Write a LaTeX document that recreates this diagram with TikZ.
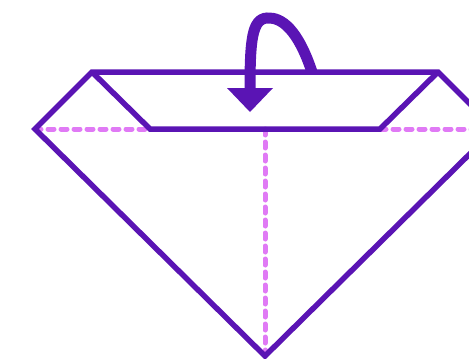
\documentclass[tikz,border=0pt]{standalone}
\begin{document}
\begin{tikzpicture}[x=1pt,y=-1pt,
  fold/.style={draw=solidc,line width=5.5pt,line join=miter},
  crease/.style={draw=dashc,line width=5pt,dash pattern=on 6pt off 7pt,line cap=round},
  turn/.style={draw=solidc,line width=11pt}]
\definecolor{solidc}{HTML}{5A14B4}
\definecolor{dashc}{HTML}{E07AF5}
\useasboundingbox (0,0) rectangle (469,359);
\clip (0,0) rectangle (469,359);
\coordinate (tl) at (92,72);
\coordinate (tr) at (438,72);
\coordinate (L) at (35,129);
\coordinate (R) at (495,129);
\coordinate (B) at (265,356);
\coordinate (il) at (150,129);
\coordinate (ir) at (380,129);
\coordinate (mid) at (265,129);
\draw[crease] (L) -- (il);
\draw[crease] (ir) -- (R);
\draw[crease] (mid) -- (B);
\draw[fold] (L) -- (tl) -- (tr) -- (R) -- (B) -- cycle;
\draw[fold] (tl) -- (il) -- (ir) -- (tr);
\coordinate (as) at (312,72);
\coordinate (ae) at (250,90);
\draw[turn] (as) .. controls (298,30) and (282,17) .. (267,18) .. controls (252,19) and (250,40) .. (ae);
\fill[solidc] (227,88) -- (273,88) -- (250,112) -- cycle;
\end{tikzpicture}
\end{document}
